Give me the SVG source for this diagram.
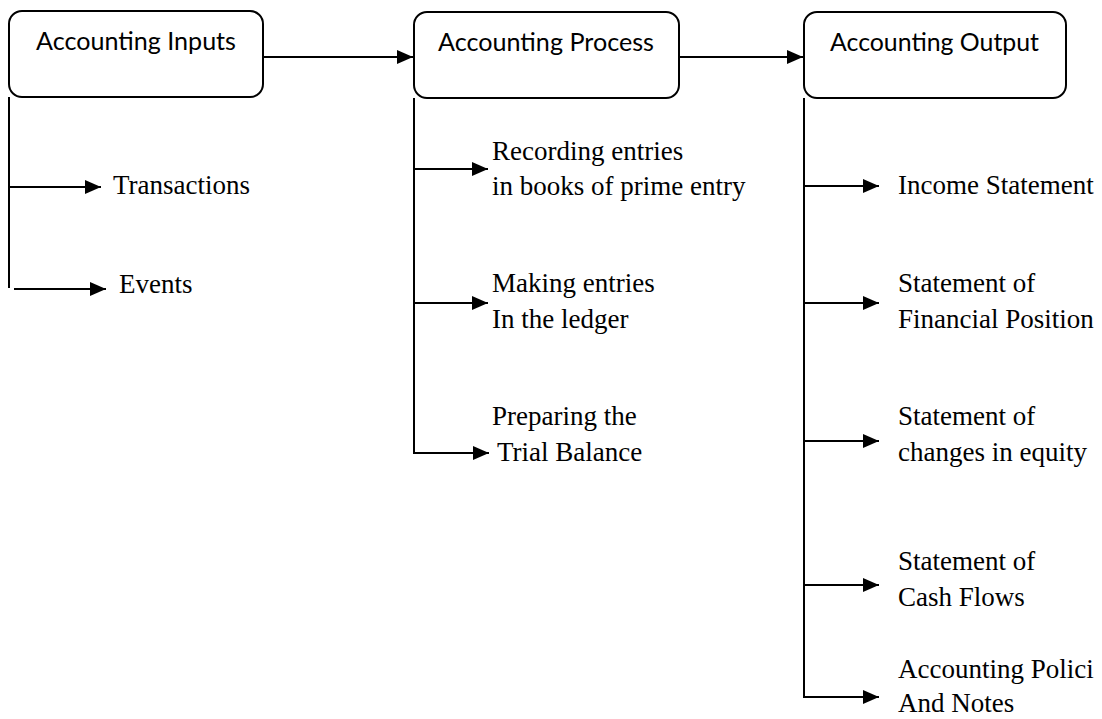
<svg xmlns="http://www.w3.org/2000/svg" width="1102" height="719" viewBox="0 0 1102 719">
<style>
.box{fill:#fff;stroke:#000;stroke-width:2}
.hd{font-family:Lato,"Open Sans",sans-serif;font-size:25px;fill:#000}
.tx{font-family:"Liberation Serif","Times New Roman",serif;font-size:27px;fill:#000}
.ln{fill:none;stroke:#000;stroke-width:2}
</style>
<defs>
<marker id="ah" viewBox="0 0 16 14" refX="16" refY="7" markerWidth="16" markerHeight="14" markerUnits="userSpaceOnUse" orient="auto">
<path d="M0,0 L16,7 L0,14 Z" fill="#000"/>
</marker>
</defs>
<rect width="1102" height="719" fill="#fff"/>
<g id="connectors">
<path class="ln" d="M263,57 H413" marker-end="url(#ah)"/>
<path class="ln" d="M679,57 H803" marker-end="url(#ah)"/>
<path class="ln" d="M9,97 V288"/>
<path class="ln" d="M9,187 H101" marker-end="url(#ah)"/>
<path class="ln" d="M14,289 H106" marker-end="url(#ah)"/>
<path class="ln" d="M414,98 V453 H489" marker-end="url(#ah)"/>
<path class="ln" d="M414,169 H488" marker-end="url(#ah)"/>
<path class="ln" d="M414,303 H488" marker-end="url(#ah)"/>
<path class="ln" d="M804,98 V697 H879" marker-end="url(#ah)"/>
<path class="ln" d="M804,186 H879" marker-end="url(#ah)"/>
<path class="ln" d="M804,303 H879" marker-end="url(#ah)"/>
<path class="ln" d="M804,441 H879" marker-end="url(#ah)"/>
<path class="ln" d="M804,585 H879" marker-end="url(#ah)"/>
</g>
<g id="node-inputs">
<rect class="box" x="9" y="11" width="254" height="86" rx="13"/>
<text class="hd" x="36" y="50" textLength="200" lengthAdjust="spacingAndGlyphs">Accounting Inputs</text>
</g>
<g id="node-process">
<rect class="box" x="414" y="12" width="265" height="86" rx="13"/>
<text class="hd" x="438" y="51" textLength="216" lengthAdjust="spacingAndGlyphs">Accounting Process</text>
</g>
<g id="node-output">
<rect class="box" x="804" y="12" width="262" height="86" rx="13"/>
<text class="hd" x="830" y="51" textLength="209" lengthAdjust="spacingAndGlyphs">Accounting Output</text>
</g>
<g id="node-transactions"><text class="tx" x="113" y="194">Transactions</text></g>
<g id="node-events"><text class="tx" x="119" y="293">Events</text></g>
<g id="node-recording"><text class="tx" x="492" y="160">Recording entries</text><text class="tx" x="492" y="195">in books of prime entry</text></g>
<g id="node-ledger"><text class="tx" x="492" y="292">Making entries</text><text class="tx" x="492" y="328">In the ledger</text></g>
<g id="node-trial"><text class="tx" x="492" y="425">Preparing the</text><text class="tx" x="497" y="461">Trial Balance</text></g>
<g id="node-income"><text class="tx" x="898" y="194">Income Statement</text></g>
<g id="node-sofp"><text class="tx" x="898" y="292">Statement of</text><text class="tx" x="898" y="328">Financial Position</text></g>
<g id="node-soce"><text class="tx" x="898" y="425">Statement of</text><text class="tx" x="898" y="461">changes in equity</text></g>
<g id="node-socf"><text class="tx" x="898" y="570">Statement of</text><text class="tx" x="898" y="606">Cash Flows</text></g>
<g id="node-notes"><text class="tx" x="898" y="678">Accounting Polici</text><text class="tx" x="898" y="712">And Notes</text></g>
</svg>
